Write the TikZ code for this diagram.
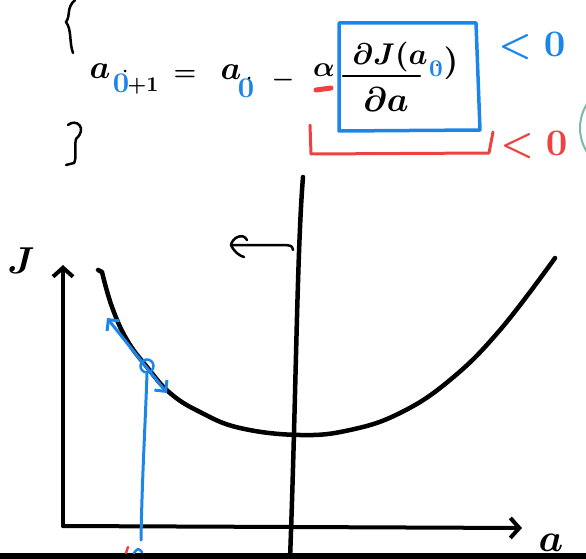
\documentclass[tikz,border=0pt]{standalone}
\usepackage{amsmath,amssymb}
\usetikzlibrary{arrows.meta, positioning, calc}
\definecolor{penblue}{RGB}{28,134,232}
\definecolor{penred}{RGB}{238,66,66}
\definecolor{pengreen}{RGB}{125,185,170}

\begin{document}
\begin{tikzpicture}[x=1pt, y=-1pt,
  ink/.style={line width=4pt, line cap=round, line join=round},
  thinink/.style={line width=2.5pt, line cap=round, line join=round},
  blueink/.style={penblue, line width=3pt, line cap=round, line join=round},
  redink/.style={penred, line width=3pt, line cap=round, line join=round},
  hand/.style={inner sep=0pt, scale=3, font=\boldmath},
  barb/.style={-{Straight Barb[length=9pt, width=20pt]}}]
  \useasboundingbox (0,0) rectangle (586,559);
  % braces of the loop
  \draw[thinink] (75,0) .. controls (66,8) and (71,15) .. (66,22)
    .. controls (72,30) and (69,42) .. (73,53);
  \draw[thinink] (68,125) .. controls (76,118) and (88,128) .. (76,139)
    .. controls (74,148) and (77,158) .. (74,163) -- (66,165);
  % update rule (scales below are relative to hand)
  \node[hand, scale=1.1] (aNew) at (100,71) {$a$};
  \node[hand, scale=0.95, penblue] (subNew) at (121,83) {$0$};
  \node[hand, scale=0.7] (plusOne) at (143,86) {$+1$};
  \node[hand, scale=0.85] (eq) at (185,76) {$=$};
  \node[hand, scale=1.1] (aOld) at (231,72) {$a$};
  \node[hand, scale=0.95, penblue] (subOld) at (246,88) {$0$};
  \node[hand, scale=0.85] (minus) at (283,80) {$-$};
  \node[hand, scale=0.95] (alpha) at (324,70) {$\alpha$};
  \fill (125,71) circle (1.5);
  \fill (249,78) circle (1.5);
  \draw[redink, line width=5pt] (316,90) -- (331,88);
  % gradient term
  \node[hand] (grad) at (390,57) {$\partial J(a$};
  \node[hand, scale=0.8, penblue] (subGrad) at (436,69) {$0$};
  \fill (437,65) circle (1);
  \node[hand, scale=1.1] (close) at (451,63) {$)$};
  \draw[thinink] (343,76) -- (420,76);
  \node[hand, scale=1.15] (da) at (386,100) {$\partial a$};
  \draw[blueink, line width=3.5pt] (339,23) -- (476,23) -- (480,130) -- (339,131) -- cycle;
  \node[hand, scale=1.25, penblue] (signBlue) at (532,46) {$<0$};
  \draw[redink] (310,125) -- (311,154) -- (489,153) -- (493,132);
  \node[hand, scale=1.25, penred] (signRed) at (534,145) {$<0$};
  % partial circle at the edge
  \begin{scope}
    \clip (0,0) rectangle (586,559);
    \draw[pengreen, line width=2pt, fill=white] (625,128) circle (45);
  \end{scope}
  % axes
  \coordinate (O) at (63,526);
  \coordinate (ytip) at (63,265);
  \coordinate (xtip) at (522,528);
  \draw[ink, barb] (O) -- (ytip);
  \draw[ink, barb] (O) -- (xtip);
  \node[hand, scale=1.25] (Jlabel) at (21,261) {$J$};
  \node[hand, scale=1.3] (alabel) at (551,543) {$a$};
  % cost curve
  \draw[ink, line width=4.5pt] (98,270) -- (102,272)
    plot[smooth, tension=0.7] coordinates {(102,272) (112,307) (127,340) (147,367)
      (170,393) (200,412) (240,428) (300,435) (350,430) (400,413) (450,380) (500,330) (555,258)};
  % the minimum line and its arrow
  \coordinate (vTop) at (303,177);
  \coordinate (vBot) at (290,559);
  \draw[ink, line width=4.5pt] (vTop) .. controls (297,250) and (296,400) .. (vBot);
  \coordinate (eStart) at (293,250);
  \coordinate (eTip) at (231,245);
  \draw[thinink] (eStart) .. controls (292,246) .. (286,245) -- (eTip);
  \draw[thinink] (247,240) .. controls (243,232) and (232,238) .. (eTip)
    .. controls (234,252) and (240,256) .. (244,257);
  % slope at the current point
  \coordinate (tanA) at (107,318);
  \coordinate (tanB) at (167,393);
  \draw[blueink, {Straight Barb[length=8pt, width=16pt]}-{Straight Barb[length=8pt, width=16pt]}] (tanA) -- (tanB);
  \node[circle, draw=penblue, line width=2.5pt, minimum size=13pt, inner sep=0pt] (pt) at (147,366) {};
  \coordinate (foot) at (141,540);
  \draw[blueink] (pt.south) .. controls (145,430) and (142,480) .. (foot);
  % frame edge
  \fill (0,553) rectangle (586,559);
  \draw[redink, line width=2.5pt] (126,553) -- (128,547);
  \draw[blueink, line width=2.5pt] (134,553) .. controls (138,548) .. (142,552);
\end{tikzpicture}
\end{document}
